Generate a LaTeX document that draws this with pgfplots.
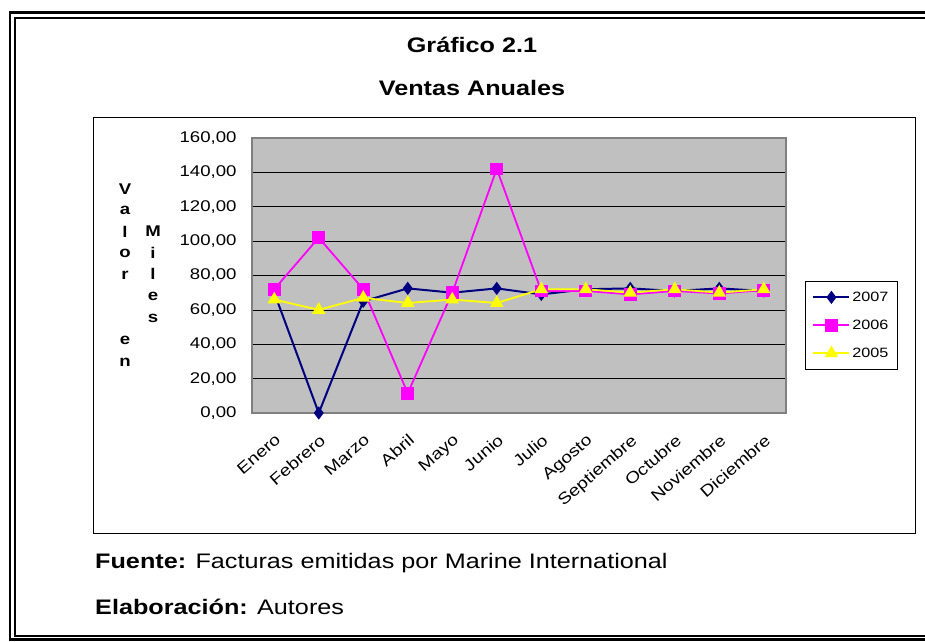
\documentclass[border=0pt]{standalone}
\usepackage{pgfplots}
\pgfplotsset{compat=1.18}
\usepackage{fontspec}
\setmainfont[FakeStretch=1.2]{Liberation Sans}
\definecolor{exgray}{HTML}{C0C0C0}
\definecolor{exframe}{HTML}{808080}
\definecolor{exnavy}{HTML}{000080}
\definecolor{exmag}{HTML}{FF00FF}
\definecolor{exyel}{HTML}{FFFF00}
\begin{document}
\begin{tikzpicture}
\path[use as bounding box] (0,0) rectangle (925pt,641pt);
% double frame
\draw[line width=2.4pt] (940pt,1.5pt) -- (10pt,1.5pt) -- (10pt,628.5pt) -- (940pt,628.5pt);
\draw[line width=1.6pt] (940pt,5pt) -- (15pt,5pt) -- (15pt,622.7pt) -- (940pt,622.7pt);
% chart box
\draw[line width=1pt] (93pt,108pt) rectangle (915pt,523pt);
% titles
\node[font=\bfseries\fontsize{21}{25}\selectfont] at (472pt,596pt) {Gráfico 2.1};
\node[font=\bfseries\fontsize{21}{25}\selectfont] at (472pt,553pt) {Ventas Anuales};
\node[anchor=west, inner sep=0pt, font=\fontsize{21}{25}\selectfont] at (95pt,78pt) {\textbf{Fuente:} Facturas emitidas por Marine International};
\node[anchor=west, inner sep=0pt, font=\fontsize{21}{25}\selectfont] at (95pt,34pt) {\textbf{Elaboración:} Autores};
% stacked y label
\foreach \ch/\yy in {V/189, a/210.5, l/232, o/253.5, r/275, e/340.5, n/362}
  \node[font=\bfseries\fontsize{15.5}{18}\selectfont, inner sep=0pt] at (125pt,641pt-\yy pt) {\ch};
\foreach \ch/\yy in {M/231, i/252.5, l/274, e/296.5, s/318}
  \node[font=\bfseries\fontsize{15.5}{18}\selectfont, inner sep=0pt] at (153pt,641pt-\yy pt) {\ch};
\begin{axis}[
  at={(252pt,228pt)}, anchor=south west,
  width=534pt, height=275pt, scale only axis,
  xmin=-0.5, xmax=11.5, ymin=0, ymax=160,
  xtick={0,...,11},
  xticklabels={Enero,Febrero,Marzo,Abril,Mayo,Junio,Julio,Agosto,Septiembre,Octubre,Noviembre,Diciembre},
  ytick={0,20,...,160},
  /pgf/number format/assume math mode=true,
  /pgf/number format/fixed, /pgf/number format/fixed zerofill,
  /pgf/number format/precision=2, /pgf/number format/use comma,
  /pgf/number format/1000 sep={},
  yticklabel style={font=\fontsize{15.5}{18}\selectfont, xshift=-12pt},
  xticklabel style={font=\fontsize{16}{18}\selectfont, inner sep=0pt, xshift=0pt, yshift=-20pt, rotate=41, anchor=north east},
  tick style={draw=none},
  ymajorgrids, grid style={black, line width=0.7pt},
  axis background/.style={fill=exgray},
  axis line style={exframe, line width=1.2pt},
  clip=false,
  legend style={at={(1.0356,0.156)}, anchor=south west, draw=black, line width=0.8pt,
    font=\fontsize{13.5}{15}\selectfont, row sep=13pt, inner ysep=9pt, inner xsep=7pt, cells={anchor=west}},
  legend image code/.code={\draw[mark repeat=2,mark phase=2,#1] plot coordinates {(0pt,0pt) (18pt,0pt) (36pt,0pt)};},
]
\addplot[exnavy, line width=2pt, mark=diamond*, mark size=5pt, mark options={solid, fill=exnavy, draw=exnavy}]
  coordinates {(0,70) (1,0) (2,65) (3,72.5) (4,70) (5,72.5) (6,69) (7,72) (8,72.5) (9,71) (10,72.5) (11,71)};
\addlegendentry{2007}
\addplot[exmag, line width=1.8pt, mark=square*, mark size=5.5pt, mark options={solid, fill=exmag, draw=exmag}]
  coordinates {(0,72) (1,102) (2,72) (3,11.5) (4,70) (5,142) (6,71) (7,71) (8,69) (9,71) (10,69.5) (11,71.5)};
\addlegendentry{2006}
\addplot[exyel, line width=1.8pt, mark=triangle*, mark size=6pt, mark options={solid, fill=exyel, draw=exyel}]
  coordinates {(0,66) (1,60) (2,67) (3,64) (4,66) (5,64) (6,72) (7,72) (8,70) (9,72) (10,70) (11,72)};
\addlegendentry{2005}
\end{axis}
\end{tikzpicture}
\end{document}
